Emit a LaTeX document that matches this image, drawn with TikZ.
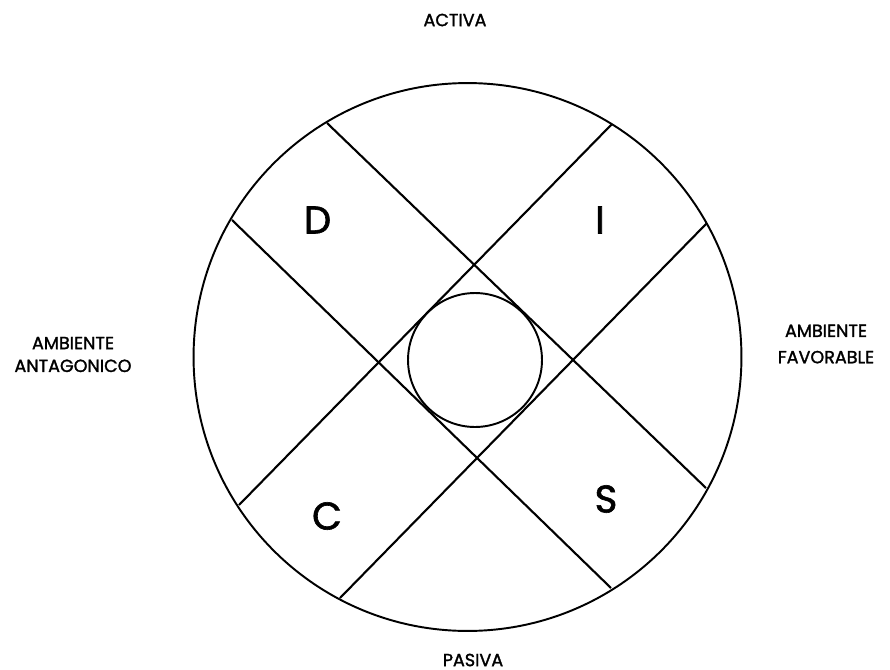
\documentclass[tikz,border=0pt]{standalone}
\usepackage{fontspec}
\setmainfont{Poppins}
\newfontfamily\heavyfont{Poppins}[FakeBold=1.6]
\usetikzlibrary{positioning}

\begin{document}
\begin{tikzpicture}[x=0.02cm,y=-0.02cm,
  rim/.style={draw=black,line width=1.1pt},
  band/.style={draw=black,line width=1.2pt},
  letter/.style={font=\heavyfont\fontsize{22}{26}\selectfont,inner sep=0pt},
  side/.style={font=\heavyfont\fontsize{10}{13}\selectfont,align=center,inner sep=0pt}
]
  \useasboundingbox (0,0) rectangle (890,670);
  \coordinate (mid) at (467.5,357);
  \coordinate (hub) at (475,360);
  \draw[rim] (mid) circle[radius=5.48cm];
  \draw[rim] (hub) circle[radius=1.34cm];

  % bands crossing the disc
  \coordinate (a1) at (327,123); \coordinate (a2) at (706,488);
  \coordinate (b1) at (232,220); \coordinate (b2) at (611,588);
  \coordinate (c1) at (612,124); \coordinate (c2) at (239,505);
  \coordinate (d1) at (707,223); \coordinate (d2) at (340,598);
  \draw[band] (a1) -- (a2);
  \draw[band] (b1) -- (b2);
  \draw[band] (c1) -- (c2);
  \draw[band] (d1) -- (d2);

  \node[letter](dom) at (317.5,220){D};
  \node[letter](inf) at (600,220)  {I};
  \node[letter](cum) at (327,516)  {C};
  \node[letter](est) at (606,499)  {S};

  \node[side](act) at (455,20)   {ACTIVA};
  \node[side](pas) at (473,660)  {PASIVA};
  \node[side](ant) at (73,354.5) {AMBIENTE\\ANTAGONICO};
  \node[side](fav) at (826,344)  {AMBIENTE\\[2pt]FAVORABLE};
\end{tikzpicture}
\end{document}
